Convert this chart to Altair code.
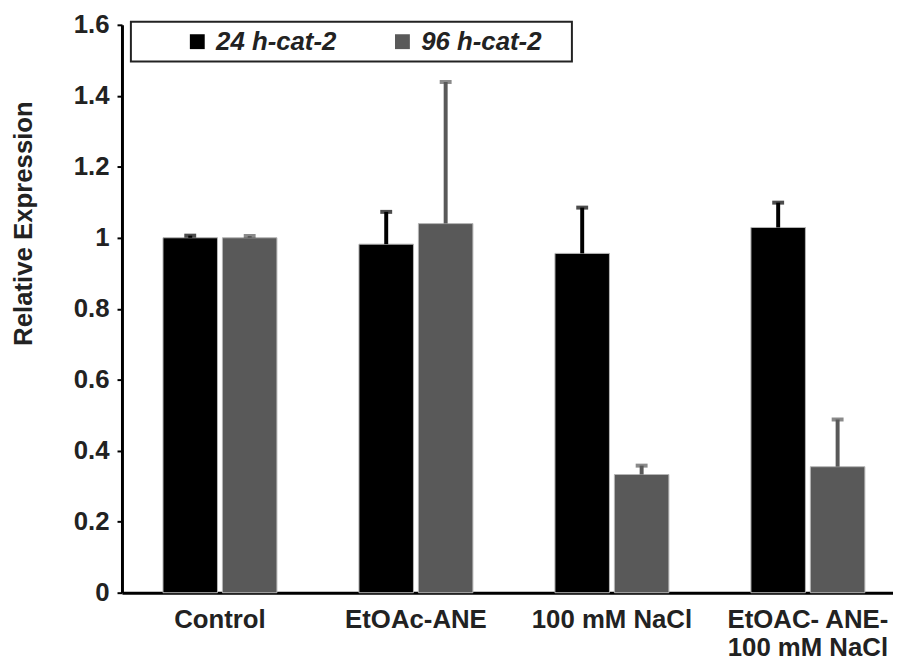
import altair as alt
import pandas as pd

categories = ["Control", "EtOAc-ANE", "100 mM NaCl", "EtOAC- ANE-|100 mM NaCl"]
series = ["24 h-cat-2", "96 h-cat-2"]
values_24 = [1.00, 0.982, 0.956, 1.029]
errors_24 = [0.006, 0.091, 0.129, 0.070]
values_96 = [1.00, 1.040, 0.333, 0.355]
errors_96 = [0.005, 0.399, 0.025, 0.133]
y_ticks = [0, 0.2, 0.4, 0.6, 0.8, 1.0, 1.2, 1.4, 1.6]

rows = []
for i, c in enumerate(categories):
    rows.append({"cat": c, "series": series[0], "value": values_24[i], "top": values_24[i] + errors_24[i]})
    rows.append({"cat": c, "series": series[1], "value": values_96[i], "top": values_96[i] + errors_96[i]})
df = pd.DataFrame(rows)

FONT = "Liberation Sans"
W = 778
H = 573

color_scale = alt.Scale(domain=series, range=["#000000", "#595959"])
x_enc = alt.X(
    "cat:N",
    sort=categories,
    scale=alt.Scale(range=[0, 791], paddingInner=0, paddingOuter=0),
    axis=alt.Axis(
        title=None,
        labelAngle=0,
        ticks=False,
        domainColor="black",
        domainWidth=3,
        labelFont=FONT,
        labelFontSize=26,
        labelFontWeight="bold",
        labelColor="#222222",
        labelPadding=14,
        labelLineHeight=28,
        labelExpr="split(datum.label, '|')",
        labelLimit=400,
    ),
)
xoff = alt.XOffset("series:N", sort=series, scale=alt.Scale(paddingInner=0.0833, paddingOuter=0.69))
y_scale = alt.Scale(domain=[0, 1.6], nice=False, zero=True)

bars = alt.Chart(df).mark_bar(stroke="#b5b5b5", strokeWidth=1).encode(
    x=x_enc,
    xOffset=xoff,
    y=alt.Y(
        "value:Q",
        scale=y_scale,
        axis=alt.Axis(
            values=y_ticks,
            format="~g",
            grid=False,
            title="Relative Expression",
            titleFont=FONT,
            titleFontSize=26,
            titleFontWeight="bold",
            titleColor="#222222",
            titleAngle=-90,
            titleX=-99,
            titleY=200,
            titleAlign="center",
            titleBaseline="middle",
            labelFont=FONT,
            labelFontSize=26,
            labelFontWeight="bold",
            labelColor="#222222",
            labelPadding=8,
            tickSize=5,
            tickWidth=2,
            tickColor="black",
            domainColor="black",
            domainWidth=3,
        ),
    ),
    color=alt.Color(
        "series:N",
        scale=color_scale,
        legend=alt.Legend(
            title=".",
            titleOrient="right",
            titleColor="white",
            titleFont=FONT,
            titleFontSize=26,
            titlePadding=16,
            orient="none",
            legendX=9,
            legendY=-3,
            direction="horizontal",
            symbolType="square",
            symbolSize=225,
            symbolStrokeWidth=0,
            labelFont=FONT,
            labelFontSize=26,
            labelFontWeight="bold",
            labelFontStyle="italic",
            labelColor="#222222",
            labelOffset=6,
            columnPadding=6,
            symbolOffset=47,
            padding=7,
            strokeColor="#222222",
            labelLimit=400,
        ),
    ),
)

rules = alt.Chart(df).mark_rule(strokeWidth=4).encode(
    x=x_enc,
    xOffset=xoff,
    y=alt.Y("value:Q", scale=y_scale),
    y2="top:Q",
    color=alt.Color("series:N", scale=color_scale, legend=None),
)

caps = alt.Chart(df).mark_tick(size=12, thickness=4).encode(
    x=x_enc,
    xOffset=xoff,
    y=alt.Y("top:Q", scale=y_scale),
    color=alt.Color("series:N", scale=color_scale, legend=None),
)

chart = (
    alt.layer(bars, rules, caps)
    .properties(
        width=W,
        height=H,
        autosize=alt.AutoSizeParams(type="none"),
        padding={"left": 115, "top": 14, "right": 0, "bottom": 72},
        background="white",
    )
    .configure_view(stroke=None)
    .configure_legend(strokeWidth=2)
)

chart.save("out.html", embed_options={"renderer": "svg", "actions": False})
